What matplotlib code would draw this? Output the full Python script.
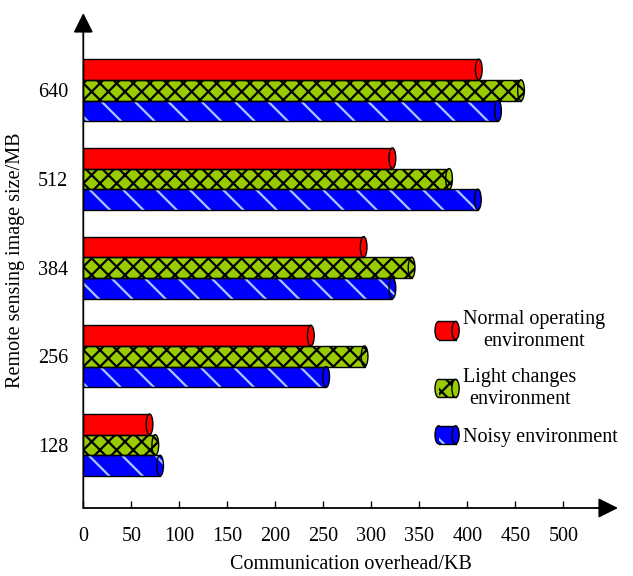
import matplotlib
matplotlib.use('Agg')
import matplotlib.pyplot as plt
from matplotlib.patches import Rectangle, Ellipse
from matplotlib.lines import Line2D
from matplotlib.legend_handler import HandlerBase

# data
sizes = ['128', '256', '384', '512', '640']
normal_env = [69, 237, 292, 322, 412]
light_env = [75, 293, 342, 381, 456]
noisy_env = [80, 253, 322, 411, 432]
series_labels = ['Normal operating\nenvironment', 'Light changes\nenvironment', 'Noisy environment']
x_ticks = [0, 50, 100, 150, 200, 250, 300, 350, 400, 450, 500]

plt.rcParams['font.family'] = ['Liberation Serif', 'DejaVu Serif']
plt.rcParams['font.size'] = 14.5
plt.rcParams['hatch.linewidth'] = 1.6

# face colour, hatch, hatch colour
STYLES = [('#ff0000', None, '#ff0000'),
          ('#99cc00', 'xx', 'black'),
          ('#0000ff', '\\', '#a8c8ff')]
BAR_H = 0.233
CAP_W = 7.0  # width of the end ellipse, data units


def cylinder(ax, y, val, style):
    face, hatch, hcol = style
    ax.barh(y, val, height=BAR_H, color=face, edgecolor=hcol, hatch=hatch, linewidth=0, zorder=2)
    ax.barh(y, val, height=BAR_H, color='none', edgecolor='black', linewidth=1, zorder=3)
    ax.add_patch(Ellipse((val, y), CAP_W, BAR_H, facecolor=face, edgecolor=hcol,
                         hatch=hatch, linewidth=0, zorder=4))
    ax.add_patch(Ellipse((val, y), CAP_W, BAR_H, facecolor='none', edgecolor='black',
                         linewidth=1, zorder=5))


class CylinderHandler(HandlerBase):
    def create_artists(self, legend, orig_handle, xdescent, ydescent, width, height, fontsize, trans):
        face = orig_handle.get_facecolor()
        hatch = orig_handle.get_hatch()
        hcol = orig_handle.get_edgecolor()
        x0, y0 = -xdescent, -ydescent
        cw = width * 0.3
        arts = [Ellipse((x0 + cw / 2, y0 + height / 2), cw, height, facecolor=face,
                        edgecolor='black', linewidth=1),
                Rectangle((x0 + cw / 2, y0), width - cw, height, facecolor=face,
                          edgecolor=hcol, hatch=hatch, linewidth=0),
                Line2D([x0 + cw / 2, x0 + width - cw / 2], [y0, y0], color='black', linewidth=1),
                Line2D([x0 + cw / 2, x0 + width - cw / 2], [y0 + height, y0 + height],
                       color='black', linewidth=1),
                Ellipse((x0 + width - cw / 2, y0 + height / 2), cw, height, facecolor=face,
                        edgecolor='black', linewidth=1)]
        for a in arts:
            a.set_transform(trans)
        return arts


fig = plt.figure(figsize=(6.33, 5.76), dpi=100)
ax = fig.add_axes([83.3 / 633, 1 - 508 / 576, (618 - 83.3) / 633, (508 - 13) / 576])

series = [normal_env, light_env, noisy_env]
offsets = [BAR_H, 0, -BAR_H]
for vals, off, st in zip(series, offsets, STYLES):
    for i, v in enumerate(vals):
        cylinder(ax, i + off, v, st)

ax.set_xlim(0, 557)
ax.set_ylim(-0.71, 4.87)
ax.set_xticks(x_ticks)
ax.set_yticks(range(len(sizes)))
ax.set_yticklabels(sizes)
ax.tick_params(axis='x', direction='in', length=5, width=1, pad=14)
ax.tick_params(axis='y', length=0, pad=11)
for s in ax.spines.values():
    s.set_visible(False)

arrow = dict(arrowstyle='-|>,head_length=0.8,head_width=0.4', lw=1.3, color='black',
             shrinkA=0, shrinkB=0, mutation_scale=15)
ax.annotate('', xy=(0, 1), xytext=(0, 0), xycoords='axes fraction', arrowprops=arrow,
            annotation_clip=False)
ax.annotate('', xy=(1, 0), xytext=(0, 0), xycoords='axes fraction', arrowprops=arrow,
            annotation_clip=False)

ax.set_xlabel('Communication overhead/KB', labelpad=6)
ax.set_ylabel('Remote sensing image size/MB', labelpad=9)

handles = [Rectangle((0, 0), 1, 1, facecolor=f, hatch=h, edgecolor=c) for f, h, c in STYLES]
leg = ax.legend(handles, series_labels, handler_map={Rectangle: CylinderHandler()},
                loc='upper left', bbox_to_anchor=(435 / 633, 1 - 310 / 576),
                bbox_transform=fig.transFigure, frameon=False, handlelength=1.2,
                handleheight=1.0, handletextpad=0.2, labelspacing=0.85, borderpad=0,
                borderaxespad=0)
for t in leg.get_texts():
    t.set_multialignment('center')

fig.savefig('out.png', dpi=100)
